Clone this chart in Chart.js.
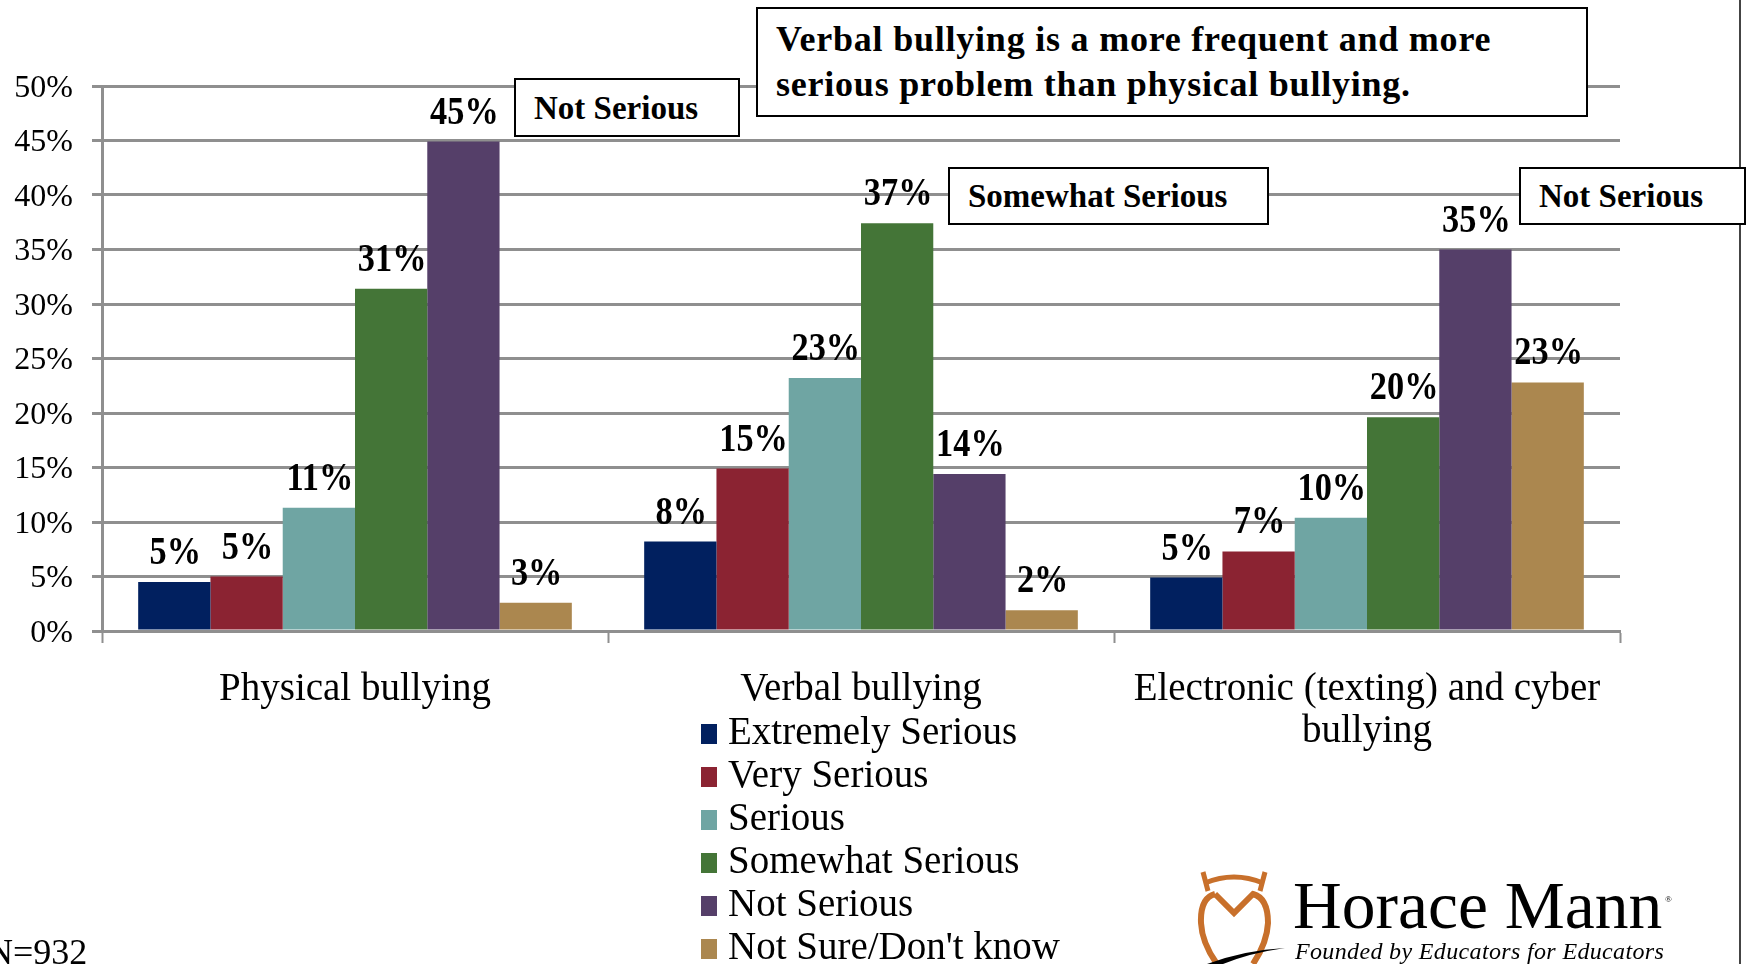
<!DOCTYPE html>
<html><head><meta charset="utf-8">
<script src="https://cdn.jsdelivr.net/npm/chart.js@4/dist/chart.umd.js"></script>
<style>
html,body{margin:0;padding:0;background:#fff;overflow:hidden}
#wrap{position:relative;width:1748px;height:964px;overflow:hidden;font-family:"Liberation Serif",serif;color:#000}
canvas{position:absolute;left:0;top:0}
.note{position:absolute;box-sizing:border-box;background:#fff;border:2px solid #000;font-weight:bold;white-space:nowrap}
.plain{position:absolute;white-space:nowrap}
</style></head><body>
<div id="wrap">
<canvas id="c" width="1748" height="964"></canvas>
<div style="position:absolute;left:1739px;top:0;width:2px;height:964px;background:#444"></div>
<div class="note" style="left:756px;top:7px;width:832px;height:110px;font-size:36px;line-height:45px;padding:8px 0 0 18px;letter-spacing:.78px">Verbal bullying is a more frequent and more<br>serious problem than physical bullying.</div>
<div class="note" style="left:514px;top:78px;width:226px;height:59px;font-size:33px;line-height:56px;padding-left:18px">Not Serious</div>
<div class="note" style="left:948px;top:167px;width:321px;height:58px;font-size:33px;line-height:55px;padding-left:18px">Somewhat Serious</div>
<div class="note" style="left:1519px;top:167px;width:227px;height:58px;font-size:33px;line-height:55px;padding-left:18px">Not Serious</div>
<div class="plain" style="left:-13px;top:931px;font-size:36px;line-height:42px">N=932</div>
<svg style="position:absolute;left:1195px;top:868px" width="110" height="96" viewBox="0 0 110 96">
<path d="M8 4 L13 23 M70 4 L65 23 M10 15 Q39 3 68 15" fill="none" stroke="#c8702b" stroke-width="5"/>
<path d="M20 26 L39 45 L58 26 Q73 30 73 55 Q72 75 58 96 M20 26 Q5 30 6 55 Q7 75 22 96" fill="none" stroke="#c8702b" stroke-width="6"/>
<path d="M12 96 Q50 82 90 80 Q55 85 28 96 Z" fill="#000"/>
</svg>
<div class="plain" style="left:1293px;top:868px;font-size:67.5px;line-height:76px">Horace Mann</div>
<div class="plain" style="left:1665px;top:894px;font-size:9px;line-height:10px">®</div>
<div class="plain" style="left:1295px;top:936px;font-size:24px;line-height:30px;font-style:italic;letter-spacing:.35px">Founded by Educators for Educators</div>
</div>
<script>
const categories = ["Physical bullying", "Verbal bullying", ["Electronic (texting) and cyber", "bullying"]];
const seriesNames = ["Extremely Serious", "Very Serious", "Serious", "Somewhat Serious", "Not Serious", "Not Sure/Don't know"];
const extremelySerious = [4.5, 8.2, 4.9];
const verySerious = [5.0, 14.9, 7.3];
const serious = [11.3, 23.2, 10.4];
const somewhatSerious = [31.4, 37.4, 19.6];
const notSerious = [44.9, 14.4, 35.0];
const notSure = [2.6, 1.9, 22.8];
const seriesValues = [extremelySerious, verySerious, serious, somewhatSerious, notSerious, notSure];
const seriesColors = ["#01205f", "#8b2332", "#6fa5a3", "#447537", "#553f69", "#ab874f"];
const tickLabels = ["0%", "5%", "10%", "15%", "20%", "25%", "30%", "35%", "40%", "45%", "50%"];

const SERIF = "'Liberation Serif', serif";
const GRID = "#8f8f8f";

function swatch(color) {
  const s = document.createElement("canvas");
  s.width = 20; s.height = 20;
  const g = s.getContext("2d");
  g.fillStyle = color; g.fillRect(0, 0, 20, 20);
  return s;
}

const barLabels = {
  id: "barLabels",
  afterDatasetsDraw(chart) {
    const ctx = chart.ctx;
    chart.data.datasets.forEach((ds, i) => {
      chart.getDatasetMeta(i).data.forEach((bar, j) => {
        ctx.save();
        ctx.font = "bold 39px " + SERIF;
        ctx.fillStyle = "#000";
        ctx.textAlign = "center";
        ctx.textBaseline = "alphabetic";
        ctx.translate(bar.x + 1, bar.y - 18);
        ctx.scale(0.88, 1);
        ctx.fillText(Math.round(ds.data[j]) + "%", 0, 0);
        ctx.restore();
      });
    });
  }
};

const placeLegend = {
  id: "placeLegend",
  beforeDraw(chart) {
    const l = chart.legend;
    l.left = 701; l.top = 710.5; l.right = 1180; l.bottom = 1400;
  }
};

new Chart(document.getElementById("c"), {
  type: "bar",
  data: {
    labels: categories,
    datasets: seriesNames.map((name, i) => ({
      label: name,
      data: seriesValues[i],
      backgroundColor: seriesColors[i],
      borderWidth: 0,
      categoryPercentage: 0.857,
      barPercentage: 1
    }))
  },
  plugins: [barLabels, placeLegend],
  options: {
    responsive: false,
    animation: false,
    devicePixelRatio: 1,
    layout: { padding: { left: 0, right: 128, top: 86, bottom: 0 } },
    scales: {
      x: {
        afterFit(s) { s.height = 964 - 86 - 545; },
        grid: { drawOnChartArea: false, drawTicks: true, tickLength: 12, tickWidth: 2, tickColor: GRID, offset: true },
        border: { color: GRID, width: 3 },
        ticks: { color: "#000", font: { family: SERIF, size: 39, lineHeight: "42.6px" }, padding: 25, maxRotation: 0, autoSkip: false }
      },
      y: {
        min: 0, max: 50,
        afterFit(s) { s.width = 102; },
        afterBuildTicks(s) { s.ticks = tickLabels.map(t => ({ value: parseInt(t, 10) })); },
        grid: { color: GRID, lineWidth: 3, tickLength: 10, tickColor: GRID, tickWidth: 3 },
        border: { color: GRID, width: 3 },
        ticks: { color: "#000", font: { family: SERIF, size: 32, lineHeight: "5px" }, padding: 19, callback: v => ["", v + "%"] }
      }
    },
    plugins: {
      title: { display: false },
      tooltip: { enabled: false },
      legend: {
        display: true,
        position: "chartArea",
        align: "start",
        labels: {
          color: "#000",
          font: { family: SERIF, size: 39 },
          padding: 4,
          usePointStyle: true,
          pointStyleWidth: 3.5,
          boxHeight: 20,
          generateLabels(chart) {
            return Chart.defaults.plugins.legend.labels.generateLabels(chart).map((it, i) => {
              it.pointStyle = swatch(seriesColors[i]);
              return it;
            });
          }
        }
      }
    }
  }
});
</script>
</body></html>
